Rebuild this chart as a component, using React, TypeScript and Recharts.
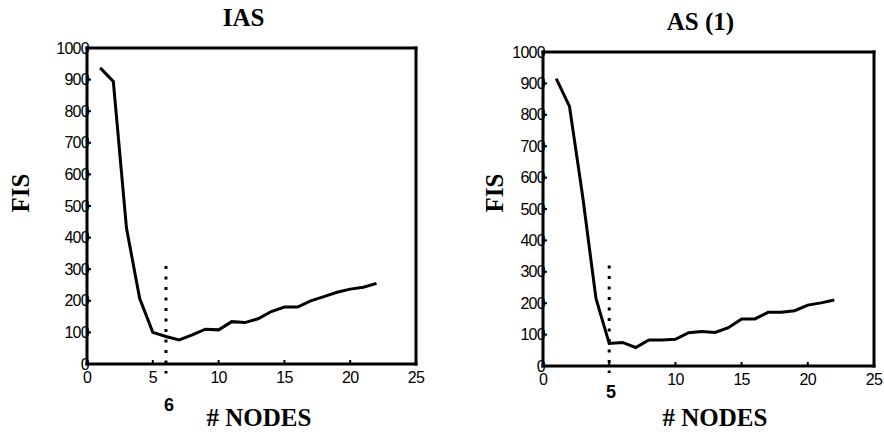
import { LineChart, Line, XAxis, YAxis, ReferenceLine } from 'recharts';

// x values (# nodes) shared by both panels
const nodes = [1, 2, 3, 4, 5, 6, 7, 8, 9, 10, 11, 12, 13, 14, 15, 16, 17, 18, 19, 20, 21, 22];
const iasFis = [937, 894, 430, 208, 100, 87, 76, 92, 110, 108, 134, 131, 143, 166, 180, 180, 200, 213, 227, 237, 243, 255];
const as1Fis = [915, 827, 539, 215, 72, 75, 59, 83, 83, 85, 106, 110, 107, 122, 150, 150, 171, 171, 176, 194, 201, 210];

const xTicks = [0, 5, 10, 15, 20, 25];
const xInnerTicks = [5, 10, 15, 20];
const yTicks = [0, 100, 200, 300, 400, 500, 600, 700, 800, 900, 1000];
const yInnerTicks = [100, 200, 300, 400, 500, 600, 700, 800, 900];

const serif = '"Liberation Serif", "Times New Roman", serif';
const sans = '"Liberation Sans", Arial, sans-serif';

interface PanelProps {
    left: number;
    title: string;
    values: number[];
    optimum: number;
    hiddenTick?: number;
    dotTop: number;
    dotBottom: number;
    margin: { top: number; right: number; left: number; bottom: number };
    titleY: number;
    fisX: number;
    nodesX: number;
    markX: number;
    markY: number;
}

function Panel({ left, title, values, optimum, hiddenTick, dotTop, dotBottom, margin, titleY, fisX, nodesX, markX, markY }: PanelProps) {
    const data = nodes.map((n, i) => ({ x: n, fis: values[i] }));
    const axisLine = { stroke: '#000', strokeWidth: 3, strokeLinecap: 'square' as const };
    const tickLine = { stroke: '#000', strokeWidth: 2 };
    const tickStyle = { fontSize: 16, fill: '#000', fontFamily: sans, letterSpacing: -0.7 };
    // axes are 1px wide, so the margins leave room for them
    const m = { top: margin.top - 1, right: margin.right - 1, left: margin.left - 1, bottom: margin.bottom - 1 };

    const center = (x: number, y: number, extra = {}) => ({
        position: 'absolute' as const,
        left: x,
        top: y,
        transform: 'translate(-50%, -50%)',
        whiteSpace: 'nowrap' as const,
        lineHeight: 1,
        ...extra,
    });

    return (
        <div style={{ position: 'absolute', left, top: 0, width: 442, height: 435 }}>
            <LineChart width={442} height={435} data={data} margin={m}>
                <XAxis
                    xAxisId="bottom"
                    type="number"
                    dataKey="x"
                    domain={[0, 25]}
                    ticks={xTicks}
                    height={1}
                    fontSize={16}
                    axisLine={axisLine}
                    tickLine={tickLine}
                    tickSize={-4}
                    tickMargin={12}
                    tick={tickStyle}
                    tickFormatter={(v: number) => (v === hiddenTick ? '' : String(v))}
                />
                <XAxis
                    xAxisId="top"
                    orientation="top"
                    type="number"
                    dataKey="x"
                    domain={[0, 25]}
                    ticks={xInnerTicks}
                    height={1}
                    axisLine={axisLine}
                    tickLine={tickLine}
                    tickSize={-4}
                    tick={false}
                />
                <YAxis
                    yAxisId="left"
                    type="number"
                    domain={[0, 1000]}
                    ticks={yTicks}
                    width={1}
                    fontSize={16}
                    axisLine={axisLine}
                    tickLine={tickLine}
                    tickSize={-4}
                    tickMargin={2}
                    tick={tickStyle}
                />
                <YAxis
                    yAxisId="right"
                    orientation="right"
                    type="number"
                    domain={[0, 1000]}
                    ticks={yInnerTicks}
                    width={1}
                    axisLine={axisLine}
                    tickLine={tickLine}
                    tickSize={-4}
                    tick={false}
                />
                <ReferenceLine
                    xAxisId="bottom"
                    yAxisId="left"
                    segment={[{ x: optimum, y: dotTop }, { x: optimum, y: dotBottom }]}
                    stroke="#000"
                    strokeWidth={3}
                    strokeDasharray="3 7.5"
                    ifOverflow="visible"
                />
                <Line
                    xAxisId="bottom"
                    yAxisId="left"
                    type="linear"
                    dataKey="fis"
                    stroke="#000"
                    strokeWidth={3}
                    dot={false}
                    isAnimationActive={false}
                />
            </LineChart>
            <div style={center(margin.left + (442 - margin.left - margin.right) / 2 - 8, titleY, { fontFamily: serif, fontWeight: 'bold', fontSize: 25 })}>{title}</div>
            <div style={center(fisX, 193, { fontFamily: serif, fontWeight: 'bold', fontSize: 25, transform: 'translate(-50%, -50%) rotate(-90deg)' })}>FIS</div>
            <div style={center(nodesX, 417, { fontFamily: serif, fontWeight: 'bold', fontSize: 25 })}># NODES</div>
            <div style={center(markX, markY, { fontFamily: sans, fontWeight: 'bold', fontSize: 18 })}>{optimum}</div>
        </div>
    );
}

export default function App() {
    return (
        <div style={{ position: 'absolute', left: 0, top: 0, width: 884, height: 435, background: '#fff' }}>
            <Panel
                left={0}
                title="IAS"
                values={iasFis}
                optimum={6}
                dotTop={310}
                dotBottom={-30}
                margin={{ top: 48, right: 26, left: 87, bottom: 71 }}
                titleY={17}
                fisX={20}
                nodesX={259}
                markX={169}
                markY={405}
            />
            <Panel
                left={442}
                title="AS (1)"
                values={as1Fis}
                optimum={5}
                hiddenTick={5}
                dotTop={320}
                dotBottom={-22}
                margin={{ top: 52, right: 10, left: 101, bottom: 69 }}
                titleY={21}
                fisX={52}
                nodesX={273}
                markX={169}
                markY={392}
            />
        </div>
    );
}
